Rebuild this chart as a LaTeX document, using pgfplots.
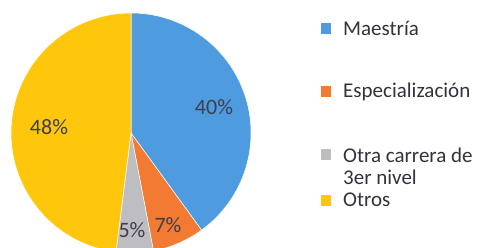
\documentclass[border=0pt]{standalone}
\usepackage{pgfplots}
\pgfplotsset{compat=1.18}
\usepackage{pgfplotstable}
\usepackage{fontspec}
\setmainfont{Carlito}
\definecolor{cBlue}{RGB}{78,155,224}
\definecolor{cOrange}{RGB}{242,122,50}
\definecolor{cGray}{RGB}{190,190,194}
\definecolor{cYellow}{RGB}{255,199,12}
\definecolor{cLab}{RGB}{62,62,78}
\definecolor{cTxt}{RGB}{50,50,60}

\pgfplotstableread{
label value
Maestria 40
Especializacion 7
Otra 5
Otros 48
}\piedata

\newcommand\pieslice[3]{%
  \fill[#3, draw=white, line width=0.5pt] (axis cs:131,115) -- ++(#1:120pt)
    arc[start angle=#1, end angle=#2, radius=120pt] -- cycle;}

\begin{document}
\begin{tikzpicture}
% cumulative angles from the table (clockwise from 12 o'clock)
\pgfplotstablegetelem{0}{value}\of\piedata \pgfmathsetmacro\aA{90-3.6*\pgfplotsretval}
\pgfplotstablegetelem{1}{value}\of\piedata \pgfmathsetmacro\aB{\aA-3.6*\pgfplotsretval}
\pgfplotstablegetelem{2}{value}\of\piedata \pgfmathsetmacro\aC{\aB-3.6*\pgfplotsretval}
\pgfplotstablegetelem{3}{value}\of\piedata \pgfmathsetmacro\aD{\aC-3.6*\pgfplotsretval}
\begin{axis}[
  name=ax, at={(0,0)}, anchor=south west,
  scale only axis, width=486pt, height=248pt,
  xmin=0, xmax=486, ymin=0, ymax=248,
  hide axis, clip=true,
]
\addplot[draw=none] coordinates {(0,0) (486,248)};
\pieslice{90}{\aA}{cBlue}
\pieslice{\aA}{\aB}{cOrange}
\pieslice{\aB}{\aC}{cGray}
\pieslice{\aC}{\aD}{cYellow}
% slice labels
\node[text=cLab, font=\fontsize{22}{26}\selectfont, inner sep=0pt] at (axis cs:214,141) {40\%};
\node[text=cLab, font=\fontsize{22}{26}\selectfont, inner sep=0pt] at (axis cs:49,121) {48\%};
\node[text=cLab, font=\fontsize{22}{26}\selectfont, inner sep=0pt] at (axis cs:168,23) {7\%};
\node[text=cLab, font=\fontsize{22}{26}\selectfont, inner sep=0pt] at (axis cs:132,18) {5\%};
% legend
\fill[cBlue] (axis cs:321,214) rectangle (axis cs:331,225);
\fill[cOrange] (axis cs:321,151) rectangle (axis cs:331,162);
\fill[cGray] (axis cs:321,88) rectangle (axis cs:331,99);
\fill[cYellow] (axis cs:321,42) rectangle (axis cs:331,53);
\node[text=cTxt, font=\fontsize{21}{25}\selectfont, inner sep=0pt, anchor=west] at (axis cs:343,220) {Maestría};
\node[text=cTxt, font=\fontsize{21}{25}\selectfont, inner sep=0pt, anchor=west] at (axis cs:343,156) {Especialización};
\node[text=cTxt, font=\fontsize{21}{25}\selectfont, inner sep=0pt, anchor=west] at (axis cs:343,93) {Otra carrera de};
\node[text=cTxt, font=\fontsize{21}{25}\selectfont, inner sep=0pt, anchor=west] at (axis cs:343,71) {3er nivel};
\node[text=cTxt, font=\fontsize{21}{25}\selectfont, inner sep=0pt, anchor=west] at (axis cs:343,48) {Otros};
\end{axis}
\pgfresetboundingbox
\path[use as bounding box] (ax.south west) rectangle (ax.north east);
\end{tikzpicture}
\end{document}
